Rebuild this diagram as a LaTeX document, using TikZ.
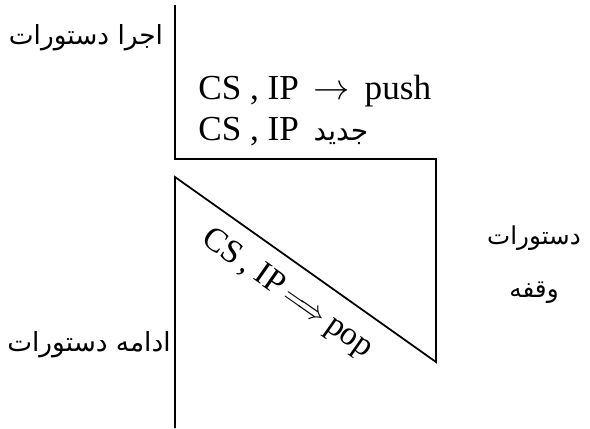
\documentclass[tikz,border=0pt]{standalone}
\usepackage{fontspec}
\setmainfont{Liberation Serif}
\newfontfamily\arabicfont[Script=Arabic]{DejaVu Sans}
\TeXXeTstate=1
\tikzset{
	fa/.style={font=\fontsize{15}{30}\selectfont\arabicfont, inner sep=0pt},
	en/.style={font=\fontsize{20}{22}\selectfont, inner sep=0pt}
}
\begin{document}
\begin{tikzpicture}
		\useasboundingbox (0,0) rectangle (11.8,8.56);
		\coordinate (v1) at (3.5,8.46);
		\coordinate (v2) at (3.5,5.38);
		\coordinate (v3) at (8.72,5.38);
		\coordinate (v4) at (8.72,1.32);
		\coordinate (v5) at (3.5,5.02);
		\coordinate (v6) at (3.5,0);
		\draw [line width=1pt] (v1) -- (v2) -- (v3) -- (v4) -- (v5) -- (v6);
		\node [fa] (t1) at (1.72,7.8) {\beginR اجرا دستورات\endR};
		\node [en, anchor=base west] (t2) at (3.96,6.58) {CS , IP \,$\rightarrow$\, push};
		\node [en, anchor=base west] (t3) at (3.96,5.76) {CS , IP \,{\fontsize{16}{18}\selectfont\arabicfont\beginR جدید\endR}};
		\node [fa, font=\fontsize{14}{30}\selectfont\arabicfont, align=center] (t4) at (10.68,3.26) {\beginR دستورات\endR\\\beginR وقفه\endR};
		\node [fa] (t5) at (1.78,1.66) {\beginR ادامه دستورات\endR};
		\node [en, font=\fontsize{19}{22}\selectfont, rotate=-35, anchor=north west] (t6) at (4.26,4.08) {CS\,, IP\,$\Longrightarrow$\,pop};
\end{tikzpicture}
\end{document}
